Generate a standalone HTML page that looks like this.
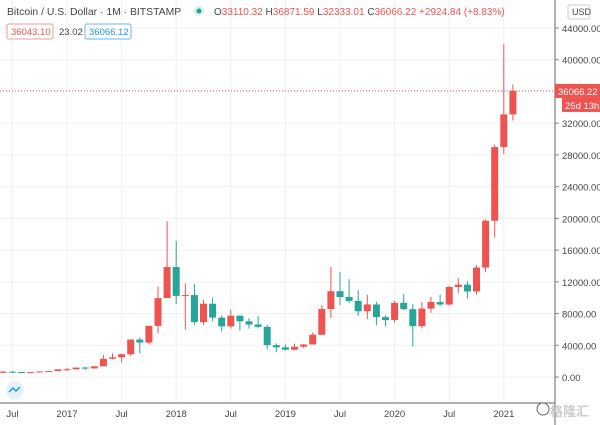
<!DOCTYPE html>
<html><head><meta charset="utf-8"><style>
body{margin:0;background:#fff;}
svg{display:block;font-family:"Liberation Sans","Noto Sans CJK SC",sans-serif;}
</style></head><body>
<svg id="c" width="600" height="425" xmlns="http://www.w3.org/2000/svg"></svg>
<script>
const s=document.getElementById('c');let h='';
const Y=v=>377-v*349/44000, X=m=>67+(m-12)*9.1;
for(let v=0;v<=44000;v+=4000){const y=Y(v);h+=`<line x1="0" x2="555" y1="${y}" y2="${y}" stroke="#eef0f3"/>`;
h+=`<line x1="555" x2="559" y1="${y}" y2="${y}" stroke="#888"/><text x="562" y="${y+4}" font-size="9.5" fill="#444">${v.toFixed(2)}</text>`;}
const xl=[[6,'Jul'],[12,'2017'],[18,'Jul'],[24,'2018'],[30,'Jul'],[36,'2019'],[42,'Jul'],[48,'2020'],[54,'Jul'],[60,'2021']];
xl.forEach(([m,t])=>{const x=X(m);h+=`<line x1="${x}" x2="${x}" y1="0" y2="403" stroke="#eef0f3"/><text x="${x}" y="417" font-size="9.5" fill="#444" text-anchor="middle">${t}</text>`;});
h+=`<line x1="555" x2="555" y1="0" y2="425" stroke="#666"/><line x1="0" x2="555" y1="403" y2="403" stroke="#666"/>`;
const d=[[531,780,500,673],[673,704,480,624],[624,625,465,573],[573,630,560,609],[609,720,600,700],[700,755,690,745],[745,980,740,964],
[964,1150,750,970],[970,1200,920,1190],[1190,1300,890,1080],[1080,1350,1060,1350],[1350,2760,1350,2300],[2300,3000,2200,2480],[2480,2930,1830,2870],[2870,4750,2670,4720],[4720,4980,2980,4340],[4340,6470,4110,6440],[6440,11400,5500,9950],[9950,19670,10800,13860],
[13860,17170,9200,10220],[10220,11790,5970,10330],[10330,11700,6600,6920],[6920,9750,6580,9240],[9240,10000,7030,7490],[7490,7770,5760,6390],[6390,8490,6110,7730],[7730,7760,5880,7020],[7020,7400,6100,6620],[6620,7680,6200,6320],[6320,6570,3500,4020],[4020,4240,3120,3740],
[3740,4100,3350,3440],[3440,4200,3390,3820],[3820,4150,3680,4100],[4100,5600,4080,5320],[5320,9070,5330,8570],[8570,13880,7440,10820],[10820,13200,9070,10080],[10080,12330,9330,9590],[9590,10950,7710,8290],[8290,10370,7300,9150],[9150,9500,6530,7550],[7550,7770,6430,7190],
[7190,9590,6860,9350],[9350,10500,8450,8540],[8540,9190,3850,6410],[6410,9460,6150,8620],[8620,10080,8100,9450],[9450,10420,8900,9140],[9140,11450,8990,11350],[11350,12480,10530,11640],[11640,12070,9880,10780],[10780,14100,10400,13800],[13800,19860,13200,19700],[19700,29300,17600,28990],
[28990,41950,28130,33110],[33110,36871,32333,36066]];
d.forEach((c,i)=>{const m=i+5,x=X(m),[o,hi,lo,cl]=c,col=cl>=o?'#ef5350':'#26a69a';
const t=Y(Math.max(o,cl)),b=Y(Math.min(o,cl));
h+=`<line x1="${x}" x2="${x}" y1="${Y(hi)}" y2="${Y(lo)}" stroke="${col}"/><rect x="${x-3.5}" y="${t}" width="7" height="${Math.max(b-t,1)}" fill="${col}"/>`;});
const yl=Y(36066);
h+=`<line x1="0" x2="555" y1="${yl}" y2="${yl}" stroke="#ef5350" stroke-dasharray="1,2"/>`;
h+=`<rect x="555" y="${yl-7}" width="45" height="14" fill="#ef5350"/><text x="558" y="${yl+4}" font-size="9.5" fill="#fff">36066.22</text>`;
h+=`<rect x="562" y="${yl+7}" width="38" height="14" fill="#ef5350"/><text x="565" y="${yl+18}" font-size="9.5" fill="#fff">25d 13h</text>`;
h+=`<rect x="568" y="5" width="22" height="14" rx="2" fill="#fff" stroke="#ccc"/><text x="572" y="15" font-size="9" fill="#444">USD</text>`;
h+=`<text x="7" y="15" font-size="10.4" fill="#444">Bitcoin / U.S. Dollar · 1M · BITSTAMP</text><circle cx="199" cy="11" r="5" fill="#d7efec"/><circle cx="199" cy="11" r="2.5" fill="#26a69a"/>`;
h+=`<text x="214" y="15" font-size="10" fill="#ef5350"><tspan fill="#444">O</tspan>33110.32 <tspan fill="#444">H</tspan>36871.59 <tspan fill="#444">L</tspan>32333.01 <tspan fill="#444">C</tspan>36066.22 +2924.84 (+8.83%)</text>`;
h+=`<rect x="7" y="24" width="46" height="15" rx="2" fill="#fff" stroke="#ef9a9a"/><text x="11" y="35" font-size="9.5" fill="#ef5350">36043.10</text><text x="59" y="35" font-size="9.5" fill="#444">23.02</text>`;
h+=`<rect x="85" y="24" width="46" height="15" rx="2" fill="#fff" stroke="#64b5f6"/><text x="89" y="35" font-size="9.5" fill="#2196f3">36066.12</text>`;
h+=`<circle cx="15" cy="390" r="9" fill="#e3f2fd"/><path d="M9 392 l4-4 3 3 4-4" stroke="#2196f3" fill="none" stroke-width="1.5"/>`;
h+=`<circle cx="543" cy="409" r="6" fill="none" stroke="#666"/><text x="550" y="416" font-size="13" fill="#ccc" font-weight="bold">格隆汇</text>`;
s.innerHTML=h;
</script>
</body></html>
